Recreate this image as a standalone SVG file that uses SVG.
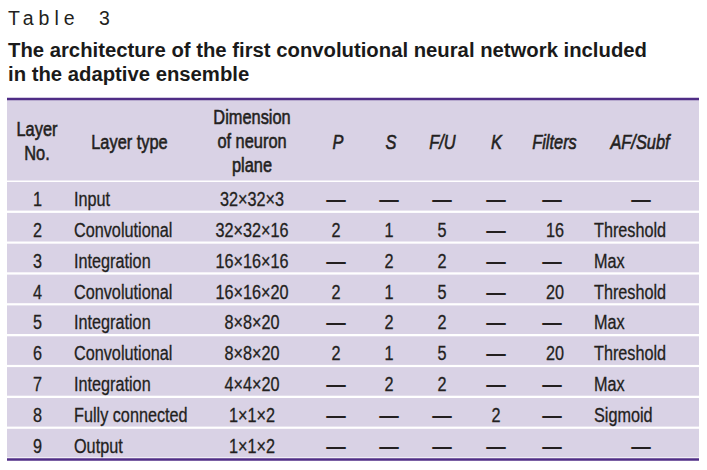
<svg xmlns="http://www.w3.org/2000/svg" width="707" height="470" viewBox="0 0 707 470">
<style>
.cap{font-family:"Liberation Sans",Arial,sans-serif;font-size:19.5px;fill:#231f20;letter-spacing:5px;word-spacing:9px}
.ttl{font-family:"Liberation Sans",Arial,sans-serif;font-size:20.3px;font-weight:bold;fill:#1a1a1a}
.bg{fill:#d9d2e5}
.rule{stroke:#4f2d86;stroke-width:2.4;fill:none}
.h{font-family:"Liberation Sans",Arial,sans-serif;font-size:21px;fill:#231f20;stroke:#231f20;stroke-width:0.6;text-anchor:middle}
.hi{font-style:italic}
.t{font-family:"Liberation Sans",Arial,sans-serif;font-size:19.8px;fill:#231f20;stroke:#231f20;stroke-width:0.3}
.c{text-anchor:middle}
.d{font-family:"Liberation Sans",Arial,sans-serif;font-size:19.5px;font-weight:bold;fill:#231f20;text-anchor:middle}
</style>
<g id="caption">
<text class="cap" x="8" y="25">Table 3</text>
<text class="ttl" x="8" y="57">The architecture of the first convolutional neural network included</text>
<text class="ttl" x="8" y="81">in the adaptive ensemble</text>
</g>
<g id="table-background">
<rect class="bg" x="7" y="100" width="692" height="80.5"/>
<rect class="bg" x="7" y="182" width="692" height="28.6"/>
<rect class="bg" x="7" y="212.9" width="692" height="28.6"/>
<rect class="bg" x="7" y="243.7" width="692" height="28.6"/>
<rect class="bg" x="7" y="274.6" width="692" height="28.6"/>
<rect class="bg" x="7" y="305.4" width="692" height="28.6"/>
<rect class="bg" x="7" y="336.3" width="692" height="28.6"/>
<rect class="bg" x="7" y="367.1" width="692" height="28.6"/>
<rect class="bg" x="7" y="398" width="692" height="28.6"/>
<rect class="bg" x="7" y="428.8" width="692" height="28.6"/>
<line class="rule" x1="7" y1="99" x2="699" y2="99"/>
<line class="rule" x1="7" y1="459.5" x2="699" y2="459.5"/>
</g>
<g id="header" transform="scale(0.78,1)">
<text class="h" x="47.44" y="136.5">Layer</text>
<text class="h" x="47.44" y="160">No.</text>
<text class="h" x="166.03" y="149">Layer type</text>
<text class="h" x="323.08" y="124.5">Dimension</text>
<text class="h" x="323.08" y="148.5">of neuron</text>
<text class="h" x="323.08" y="172">plane</text>
<text class="h hi" x="433.33" y="149">P</text>
<text class="h hi" x="501.28" y="149">S</text>
<text class="h hi" x="567.31" y="149">F/U</text>
<text class="h hi" x="636.54" y="149">K</text>
<text class="h hi" x="710.9" y="149">Filters</text>
<text class="h hi" x="820.51" y="149">AF/Subf</text>
</g>
<g id="rows" transform="scale(0.82,1)">
<g id="row-1">
<text class="t c" x="45.73" y="206">1</text><text class="t" x="90.24" y="206">Input</text><text class="t c" x="307.32" y="206">32×32×3</text>
</g>
<g id="row-2">
<text class="t c" x="45.73" y="236.9">2</text><text class="t" x="90.24" y="236.9">Convolutional</text><text class="t c" x="307.32" y="236.9">32×32×16</text>
<text class="t c" x="409.76" y="236.9">2</text><text class="t c" x="474.39" y="236.9">1</text><text class="t c" x="539.02" y="236.9">5</text><text class="t c" x="676.83" y="236.9">16</text><text class="t" x="724.39" y="236.9">Threshold</text>
</g>
<g id="row-3">
<text class="t c" x="45.73" y="267.7">3</text><text class="t" x="90.24" y="267.7">Integration</text><text class="t c" x="307.32" y="267.7">16×16×16</text>
<text class="t c" x="474.39" y="267.7">2</text><text class="t c" x="539.02" y="267.7">2</text><text class="t" x="724.39" y="267.7">Max</text>
</g>
<g id="row-4">
<text class="t c" x="45.73" y="298.6">4</text><text class="t" x="90.24" y="298.6">Convolutional</text><text class="t c" x="307.32" y="298.6">16×16×20</text>
<text class="t c" x="409.76" y="298.6">2</text><text class="t c" x="474.39" y="298.6">1</text><text class="t c" x="539.02" y="298.6">5</text><text class="t c" x="676.83" y="298.6">20</text><text class="t" x="724.39" y="298.6">Threshold</text>
</g>
<g id="row-5">
<text class="t c" x="45.73" y="329.4">5</text><text class="t" x="90.24" y="329.4">Integration</text><text class="t c" x="307.32" y="329.4">8×8×20</text>
<text class="t c" x="474.39" y="329.4">2</text><text class="t c" x="539.02" y="329.4">2</text><text class="t" x="724.39" y="329.4">Max</text>
</g>
<g id="row-6">
<text class="t c" x="45.73" y="360.3">6</text><text class="t" x="90.24" y="360.3">Convolutional</text><text class="t c" x="307.32" y="360.3">8×8×20</text>
<text class="t c" x="409.76" y="360.3">2</text><text class="t c" x="474.39" y="360.3">1</text><text class="t c" x="539.02" y="360.3">5</text><text class="t c" x="676.83" y="360.3">20</text><text class="t" x="724.39" y="360.3">Threshold</text>
</g>
<g id="row-7">
<text class="t c" x="45.73" y="391.1">7</text><text class="t" x="90.24" y="391.1">Integration</text><text class="t c" x="307.32" y="391.1">4×4×20</text>
<text class="t c" x="474.39" y="391.1">2</text><text class="t c" x="539.02" y="391.1">2</text><text class="t" x="724.39" y="391.1">Max</text>
</g>
<g id="row-8">
<text class="t c" x="45.73" y="422">8</text><text class="t" x="90.24" y="422">Fully connected</text><text class="t c" x="307.32" y="422">1×1×2</text>
<text class="t c" x="604.88" y="422">2</text><text class="t" x="724.39" y="422">Sigmoid</text>
</g>
<g id="row-9">
<text class="t c" x="45.73" y="452.8">9</text><text class="t" x="90.24" y="452.8">Output</text><text class="t c" x="307.32" y="452.8">1×1×2</text>
</g>
</g>
<g id="dashes">
<text class="d" x="336" y="206">—</text><text class="d" x="389" y="206">—</text><text class="d" x="442" y="206">—</text><text class="d" x="496" y="206">—</text><text class="d" x="552" y="206">—</text><text class="d" x="641" y="206">—</text>
<text class="d" x="496" y="236.9">—</text>
<text class="d" x="336" y="267.7">—</text><text class="d" x="496" y="267.7">—</text><text class="d" x="552" y="267.7">—</text>
<text class="d" x="496" y="298.6">—</text>
<text class="d" x="336" y="329.4">—</text><text class="d" x="496" y="329.4">—</text><text class="d" x="552" y="329.4">—</text>
<text class="d" x="496" y="360.3">—</text>
<text class="d" x="336" y="391.1">—</text><text class="d" x="496" y="391.1">—</text><text class="d" x="552" y="391.1">—</text>
<text class="d" x="336" y="422">—</text><text class="d" x="389" y="422">—</text><text class="d" x="442" y="422">—</text><text class="d" x="552" y="422">—</text>
<text class="d" x="336" y="452.8">—</text><text class="d" x="389" y="452.8">—</text><text class="d" x="442" y="452.8">—</text><text class="d" x="496" y="452.8">—</text><text class="d" x="552" y="452.8">—</text><text class="d" x="641" y="452.8">—</text>
</g>
</svg>
